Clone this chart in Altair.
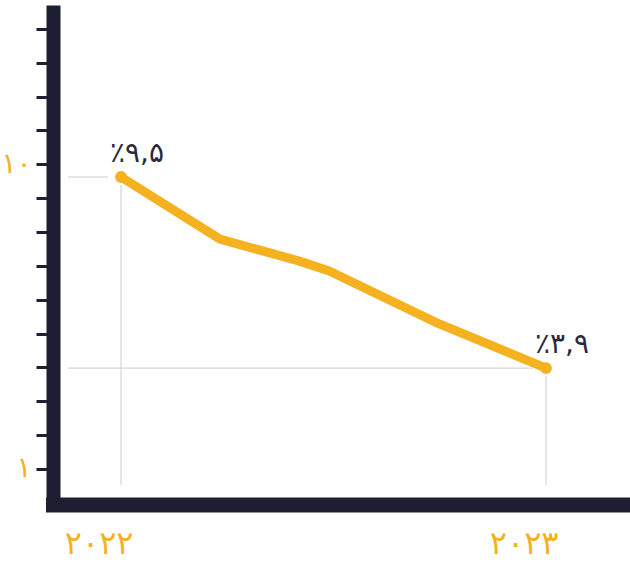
import altair as alt
import pandas as pd

# line series (fractional year)
years = [2022.0, 2022.233, 2022.42, 2022.49, 2022.739, 2023.0]
values = [9.625, 7.79, 7.14, 6.85, 5.34, 3.98]

# annotated end points
end_years = [2022.0, 2023.0]
end_values = [9.625, 3.98]
end_labels = ["٪۹,۵", "٪۳,۹"]

# axis labels
x_tick_values = [2022, 2023]
x_tick_labels = ["۲۰۲۲", "۲۰۲۳"]
y_tick_values = list(range(1, 15))
y_tick_labels = {1: "۱", 10: "۱۰"}

ORANGE = "#F4B120"
DARK = "#1E1E32"
FONT = "DejaVu Sans"

line_df = pd.DataFrame({"year": years, "value": values})
end_df = pd.DataFrame({"year": end_years, "value": end_values, "label": end_labels})

x_scale = alt.Scale(domain=[2021.84, 2023.1976], nice=False, zero=False)
y_scale = alt.Scale(domain=[-0.05, 14.5], nice=False, zero=False)

y_label_expr = " : ".join(
    [f"datum.value == {k} ? '{v}'" for k, v in y_tick_labels.items()] + ["''"]
)
x_label_expr = " : ".join(
    [f"datum.value == {k} ? '{v}'" for k, v in zip(x_tick_values, x_tick_labels)] + ["''"]
)

x_axis = alt.Axis(
    values=x_tick_values, labelExpr=x_label_expr, ticks=False, grid=False,
    domainColor=DARK, domainWidth=15, domainCap="square", labelOverlap=False,
    tickCount=10,
    labelColor=ORANGE, labelFont=FONT, labelFontSize=32, labelAlign="right",
    labelOffset=12, labelPadding=24, title=None,
)
y_axis = alt.Axis(
    values=y_tick_values, labelExpr=y_label_expr, grid=False, labelOverlap=False,
    tickCount=30,
    domainColor=DARK, domainWidth=14, domainCap="square",
    tickColor=DARK, tickWidth=3, tickSize=17,
    labelColor=ORANGE, labelFont=FONT, labelFontSize=28, labelPadding=5,
    title=None,
)

base_x = alt.X("year:Q", scale=x_scale, axis=x_axis)
base_y = alt.Y("value:Q", scale=y_scale, axis=y_axis)

h_guides = alt.Chart(end_df).mark_rule(color="#cccccc", strokeWidth=1, xOffset=-13).encode(
    x=alt.X("year:Q", scale=x_scale), x2=alt.value(15), y=alt.Y("value:Q", scale=y_scale)
)
v_guides = alt.Chart(end_df).mark_rule(color="#cccccc", strokeWidth=1, yOffset=8).encode(
    x=alt.X("year:Q", scale=x_scale), y=alt.Y("value:Q", scale=y_scale), y2=alt.value(473)
)

line = alt.Chart(line_df).mark_line(
    color=ORANGE, strokeWidth=9, strokeCap="round", strokeJoin="round"
).encode(x=base_x, y=base_y)

points = alt.Chart(end_df).mark_circle(color=ORANGE, size=140, opacity=1).encode(
    x=alt.X("year:Q", scale=x_scale), y=alt.Y("value:Q", scale=y_scale)
)

labels = alt.Chart(end_df).mark_text(
    align="left", baseline="alphabetic", dx=-11, dy=-15,
    font=FONT, fontSize=28, color="#2A2A3A",
).encode(
    x=alt.X("year:Q", scale=x_scale), y=alt.Y("value:Q", scale=y_scale), text="label:N"
)

chart = alt.layer(line, h_guides, v_guides, points, labels).properties(
    width=577, height=492.5,
    autosize=alt.AutoSizeParams(type="none"),
    padding={"left": 53, "top": 12, "right": 0, "bottom": 71.5},
    background="white",
).configure_view(stroke=None)

chart.save("out.html", embed_options={"renderer": "svg", "actions": False})
